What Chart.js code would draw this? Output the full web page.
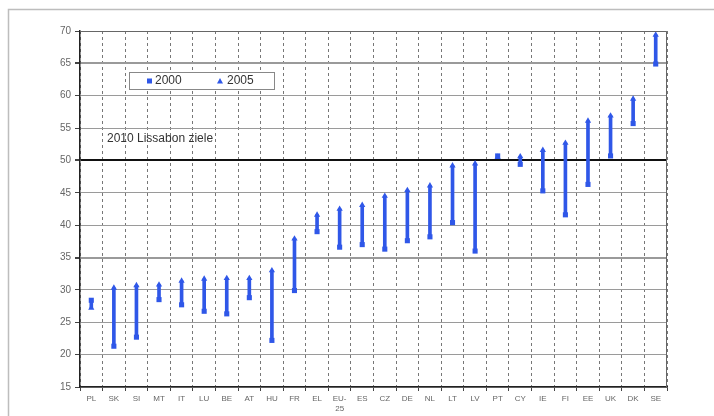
<!DOCTYPE html>
<html>
<head>
<meta charset="utf-8">
<script src="https://cdn.jsdelivr.net/npm/chart.js@4.4.1/dist/chart.umd.min.js"></script>
<style>
  html, body { margin: 0; padding: 0; background: #fff; }
  #wrap { position: relative; width: 714px; height: 416px; }
</style>
</head>
<body>
<div id="wrap"><canvas id="chart"></canvas></div>
<script>
// Beschäftigungsquote älterer Arbeitnehmer, 2000 vs 2005
const countries = ['PL', 'SK', 'SI', 'MT', 'IT', 'LU', 'BE', 'AT', 'HU', 'FR', 'EL', ['EU-', '25'],
    'ES', 'CZ', 'DE', 'NL', 'LT', 'LV', 'PT', 'CY', 'IE', 'FI', 'EE', 'UK', 'DK', 'SE'];
const rate2000 = [28.4, 21.3, 22.7, 28.5, 27.7, 26.7, 26.3, 28.8, 22.2, 29.9, 39.0, 36.6,
    37.0, 36.3, 37.6, 38.2, 40.4, 36.0, 50.7, 49.4, 45.3, 41.6, 46.3, 50.7, 55.7, 64.9];
const rate2005 = [27.2, 30.3, 30.7, 30.8, 31.4, 31.7, 31.8, 31.8, 33.0, 37.9, 41.6, 42.5,
    43.1, 44.5, 45.4, 46.1, 49.2, 49.5, 50.5, 50.6, 51.6, 52.7, 56.1, 56.9, 59.5, 69.4];
const yTicks = [15, 20, 25, 30, 35, 40, 45, 50, 55, 60, 65, 70];
const legendLabels = ['2000', '2005'];
const targetLabel = '2010 Lissabon ziele';
const targetValue = 50;

const blue = '#2f57e8';
const fontFamily = "Arial, 'Liberation Sans', sans-serif";

// Spannen zwischen beiden Jahren als schwebende Balken
const ranges = rate2000.map((v, i) => [Math.min(v, rate2005[i]), Math.max(v, rate2005[i])]);

// Rahmen, Legende und Beschriftung zeichnen
const decorations = {
    id: 'decorations',
    beforeDraw(chart) {
        const ctx = chart.ctx;
        ctx.save();
        ctx.fillStyle = '#fff';
        ctx.fillRect(0, 0, chart.width, chart.height);
        ctx.strokeStyle = '#bdbdbd';
        ctx.lineWidth = 1.5;
        ctx.beginPath();
        ctx.moveTo(8.5, chart.height);
        ctx.lineTo(8.5, 9.5);
        ctx.lineTo(chart.width, 9.5);
        ctx.stroke();
        ctx.restore();
    },
    afterDraw(chart) {
        const ctx = chart.ctx;
        const area = chart.chartArea;
        ctx.save();
        // rechte und obere Kante der Zeichenfläche
        ctx.strokeStyle = '#666';
        ctx.lineWidth = 1;
        ctx.beginPath();
        ctx.moveTo(area.left, area.top + 0.5);
        ctx.lineTo(area.right - 0.5, area.top + 0.5);
        ctx.lineTo(area.right - 0.5, area.bottom);
        ctx.stroke();

        // Legende
        const lx = 129, ly = 72, lw = 145, lh = 17;
        ctx.fillStyle = '#fff';
        ctx.fillRect(lx, ly, lw, lh);
        ctx.strokeStyle = '#888';
        ctx.strokeRect(lx + 0.5, ly + 0.5, lw, lh);
        const my = ly + lh / 2 + 0.5;
        ctx.fillStyle = blue;
        ctx.fillRect(147, my - 2.5, 5, 5);
        ctx.beginPath();
        ctx.moveTo(220, my - 3);
        ctx.lineTo(223, my + 2.5);
        ctx.lineTo(217, my + 2.5);
        ctx.closePath();
        ctx.fill();
        ctx.fillStyle = '#333';
        ctx.font = '12px ' + fontFamily;
        ctx.textBaseline = 'middle';
        ctx.textAlign = 'left';
        ctx.fillText(legendLabels[0], 155, my);
        ctx.fillText(legendLabels[1], 227, my);

        // Zielmarke
        ctx.font = '12px ' + fontFamily;
        ctx.fillText(targetLabel, 107, 139);
        ctx.restore();
    }
};

new Chart(document.getElementById('chart'), {
    type: 'bar',
    data: {
        labels: countries,
        datasets: [
            {
                type: 'line',
                label: legendLabels[0],
                data: rate2000,
                showLine: false,
                pointStyle: 'rect',
                pointRadius: 3.6,
                pointBackgroundColor: blue,
                pointBorderColor: blue,
                pointBorderWidth: 0
            },
            {
                type: 'line',
                label: legendLabels[1],
                data: rate2005,
                showLine: false,
                pointStyle: 'triangle',
                pointRadius: 3.6,
                pointBackgroundColor: blue,
                pointBorderColor: blue,
                pointBorderWidth: 0
            },
            {
                label: 'Spanne',
                data: ranges,
                backgroundColor: blue,
                barThickness: 3,
                borderWidth: 0
            }
        ]
    },
    options: {
        responsive: true,
        maintainAspectRatio: false,
        animation: false,
        layout: { padding: { left: 0, right: 47, top: 31, bottom: 0 } },
        plugins: {
            legend: { display: false },
            tooltip: { enabled: false }
        },
        scales: {
            x: {
                offset: true,
                grid: {
                    offset: true,
                    color: '#777',
                    lineWidth: 1,
                    tickLength: 4,
                    tickColor: '#444'
                },
                border: { display: true, color: '#222', width: 1.5, dash: [3, 3] },
                ticks: {
                    color: '#666',
                    font: { size: 8, family: fontFamily },
                    padding: 3,
                    maxRotation: 0,
                    autoSkip: false
                },
                afterFit(scale) { scale.height = 29; }
            },
            y: {
                min: 15,
                max: 70,
                afterBuildTicks(scale) {
                    scale.ticks = yTicks.map(v => ({ value: v }));
                },
                grid: {
                    color: ctx => ctx.tick && ctx.tick.value === targetValue ? '#111' : '#9a9a9a',
                    lineWidth: ctx => {
                        if (!ctx.tick) return 1;
                        if (ctx.tick.value === targetValue) return 2;
                        return (ctx.tick.value === 35 || ctx.tick.value === 65) ? 2 : 1;
                    },
                    tickLength: 5,
                    tickColor: '#444'
                },
                border: { display: true, color: '#222', width: 1.5 },
                ticks: {
                    color: '#666',
                    font: { size: 10, family: fontFamily },
                    padding: 4
                },
                afterFit(scale) { scale.width = 80; }
            }
        }
    },
    plugins: [decorations]
});
</script>
</body>
</html>
